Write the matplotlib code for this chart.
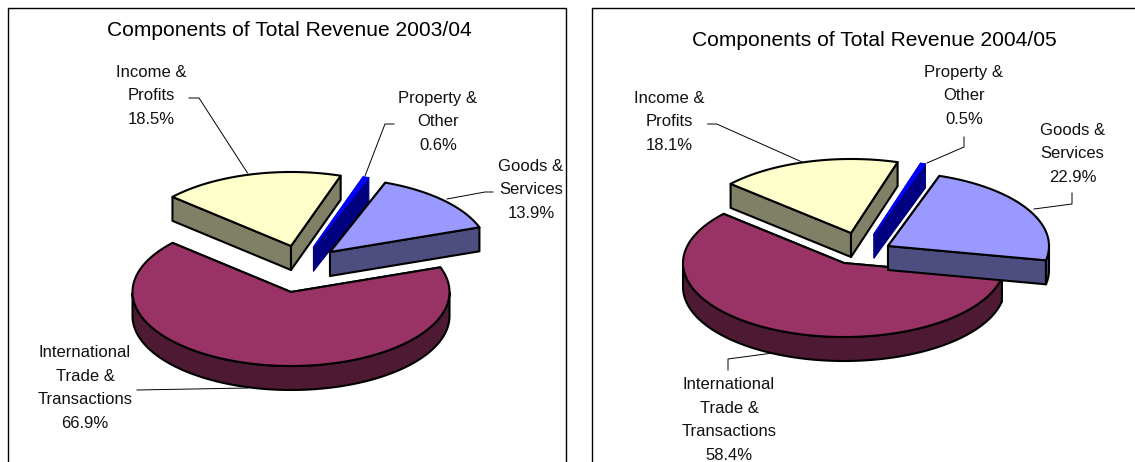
import numpy as np
import matplotlib
matplotlib.use("Agg")
import matplotlib.pyplot as plt

plt.rcParams['font.family'] = ['Liberation Sans', 'DejaVu Sans']

# ---- data ----
categories = ["Income &\nProfits", "Property &\nOther", "Goods &\nServices",
              "International\nTrade &\nTransactions"]
values_0304 = [18.5, 0.6, 13.9, 66.9]
values_0405 = [18.1, 0.5, 22.9, 58.4]
title_0304 = "Components of Total Revenue 2003/04"
title_0405 = "Components of Total Revenue 2004/05"

# ---- styles ----
top_colors = ["#FFFFCC", "#0000FF", "#9999FF", "#993366"]
side_colors = ["#808066", "#000080", "#4D4D80", "#4D1933"]
edge_colors = ["black", None, "black", "black"]
draw_order = [3, 0, 1, 2]
START = 138.4
DEPTH = 24
RY = 74

fig = plt.figure(figsize=(11.35, 4.62), dpi=100, facecolor="white")
ax = fig.add_axes([0, 0, 1, 1])
ax.set_xlim(0, 1135)
ax.set_ylim(462, 0)
ax.axis("off")


def draw_pie(values, cx, cy, rx, offsets):
    sweeps = np.array(values) / sum(values) * 360
    a0 = START
    angles = []
    for s in sweeps:
        angles.append((a0, a0 - s))
        a0 -= s
    for i in draw_order:
        a, b = angles[i]
        ox, oy = offsets[i]
        x0, y0 = cx + ox, cy + oy
        th = np.radians(np.linspace(a, b, 160))
        ex = x0 + rx * np.cos(th)
        ey = y0 - RY * np.sin(th)
        ec = edge_colors[i]
        lw = 1.5 if ec else 0.8
        sc = side_colors[i]
        sec = ec if ec else sc
        tec = ec if ec else top_colors[i]
        # cut faces
        for k in (0, -1):
            ax.fill([x0, ex[k], ex[k], x0],
                    [y0, ey[k], ey[k] + DEPTH, y0 + DEPTH],
                    fc=sc, ec=sec, lw=lw, zorder=2 + draw_order.index(i) * 0.1,
                    joinstyle="round")
        # rim (front half only)
        m = np.sin(th) <= 0
        if m.any():
            rx_, ry_ = ex[m], ey[m]
            ax.fill(np.r_[rx_, rx_[::-1]], np.r_[ry_, ry_[::-1] + DEPTH],
                    fc=sc, ec=sec, lw=lw, zorder=2 + draw_order.index(i) * 0.1,
                    joinstyle="round")
        # top
        ax.fill(np.r_[x0, ex], np.r_[y0, ey], fc=top_colors[i], ec=tec, lw=lw,
                zorder=2.05 + draw_order.index(i) * 0.1, joinstyle="round")


def draw_labels(values, positions, leaders):
    for c, v, (x, y), ld in zip(categories, values, positions, leaders):
        ax.text(x, y, f"{c}\n{v:.1f}%", ha="center", va="center",
                fontsize=12, linespacing=1.73, color="#111111", zorder=5)
        ax.plot(ld[0], ld[1], color="black", lw=0.7, zorder=4)


def frame(xs, ys):
    ax.plot(xs, ys, color="black", lw=1.0, zorder=1, clip_on=True)


frame([8, 8, 566, 566], [462, 8, 8, 462])
frame([592, 592, 1135], [462, 8, 8])

ax.text(289, 30, title_0304, ha="center", va="center", fontsize=15.1, color="black")
ax.text(874, 41, title_0405, ha="center", va="center", fontsize=15.1, color="black")

draw_pie(values_0304, 291, 292, 158.5,
         [(0, -46), (22.5, -45), (39, -40), (0, 0)])
draw_pie(values_0405, 844, 263, 161,
         [(7, -30), (30, -29), (44, -17), (0, 0)])

draw_labels(values_0304,
            [(151.5, 96), (438, 122), (531, 190), (85, 388)],
            [([189, 199, 247.5], [98, 98, 173]),
             ([394, 385, 365], [124, 124, 176]),
             ([493, 485, 447], [192, 192, 199]),
             ([137, 248], [390, 388])])
draw_labels(values_0405,
            [(669.6, 122), (964, 96), (1072.5, 154), (729, 420)],
            [([707.7, 716.7, 802], [124, 124, 162]),
             ([964, 964, 927], [137, 147, 163]),
             ([1072, 1072, 1034], [193, 204, 209]),
             ([728, 728, 773], [370, 359, 353])])

fig.savefig("out.png", dpi=100, facecolor="white")
